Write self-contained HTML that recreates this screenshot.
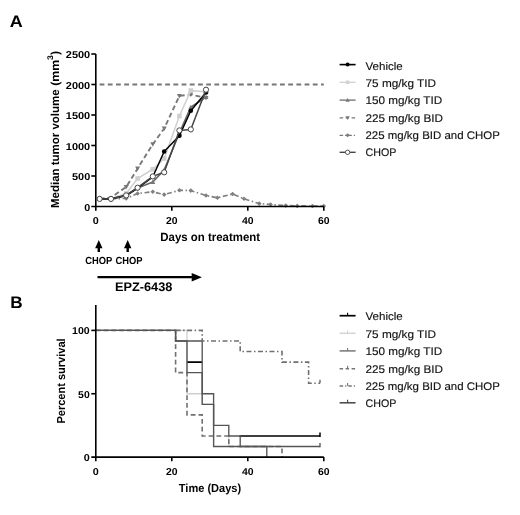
<!DOCTYPE html>
<html><head><meta charset="utf-8"><title>Figure</title>
<style>
html,body{margin:0;padding:0;background:#fff}
svg{display:block}
.b{font-family:"Liberation Sans",sans-serif;font-weight:bold;fill:#000;text-rendering:geometricPrecision}
.r{font-family:"Liberation Sans",sans-serif;font-weight:normal;fill:#111;stroke:#222;stroke-width:0.15px;text-rendering:geometricPrecision}
</style></head><body>
<svg width="520" height="515" viewBox="0 0 520 515">
<rect width="520" height="515" fill="#fff"/>
<g id="fig" filter="url(#soft)">
<defs><filter id="soft" x="0" y="0" width="520" height="515" filterUnits="userSpaceOnUse"><feGaussianBlur stdDeviation="0.45"/></filter></defs>
<text x="9.7" y="26.5" class="b" font-size="16.6" text-anchor="start" textLength="13" lengthAdjust="spacingAndGlyphs">A</text>
<text x="10.3" y="308.1" class="b" font-size="16.6" text-anchor="start" textLength="12.4" lengthAdjust="spacingAndGlyphs">B</text>
<line x1="95.8" y1="84.5" x2="323.8" y2="84.5" stroke="#777" stroke-width="1.9" stroke-dasharray="4.8 3.4" stroke-dashoffset="4.4"/>
<polyline points="99.6,198.9 111.0,198.6 126.2,198.5 137.6,193.5 152.8,191.8 164.2,194.6 179.4,190.3 190.8,190.6 206.0,195.5 217.4,197.8 232.6,194 244.0,198.8 259.2,203.6 270.6,204.5 285.8,205.6 297.2,205.9 312.4,206 323.8,206" fill="none" stroke="#808080" stroke-width="1.7" stroke-linejoin="round" stroke-dasharray="5 2.5 1.5 2.5"/>
<path d="M97.3,198.9 L99.6,196.6 L101.9,198.9 L99.6,201.2Z" fill="#808080"/>
<path d="M108.7,198.6 L111.0,196.3 L113.3,198.6 L111.0,200.9Z" fill="#808080"/>
<path d="M123.9,198.5 L126.2,196.2 L128.5,198.5 L126.2,200.8Z" fill="#808080"/>
<path d="M135.3,193.5 L137.6,191.2 L139.9,193.5 L137.6,195.8Z" fill="#808080"/>
<path d="M150.5,191.8 L152.8,189.5 L155.1,191.8 L152.8,194.1Z" fill="#808080"/>
<path d="M161.9,194.6 L164.2,192.3 L166.5,194.6 L164.2,196.9Z" fill="#808080"/>
<path d="M177.1,190.3 L179.4,188.0 L181.7,190.3 L179.4,192.6Z" fill="#808080"/>
<path d="M188.5,190.6 L190.8,188.3 L193.1,190.6 L190.8,192.9Z" fill="#808080"/>
<path d="M203.7,195.5 L206.0,193.2 L208.3,195.5 L206.0,197.8Z" fill="#808080"/>
<path d="M215.1,197.8 L217.4,195.5 L219.7,197.8 L217.4,200.1Z" fill="#808080"/>
<path d="M230.3,194 L232.6,191.7 L234.9,194 L232.6,196.3Z" fill="#808080"/>
<path d="M241.7,198.8 L244.0,196.5 L246.3,198.8 L244.0,201.1Z" fill="#808080"/>
<path d="M256.9,203.6 L259.2,201.3 L261.5,203.6 L259.2,205.9Z" fill="#808080"/>
<path d="M268.3,204.5 L270.6,202.2 L272.9,204.5 L270.6,206.8Z" fill="#808080"/>
<path d="M283.5,205.6 L285.8,203.3 L288.1,205.6 L285.8,207.9Z" fill="#808080"/>
<path d="M294.9,205.9 L297.2,203.6 L299.5,205.9 L297.2,208.2Z" fill="#808080"/>
<path d="M310.1,206 L312.4,203.7 L314.7,206 L312.4,208.3Z" fill="#808080"/>
<path d="M321.5,206 L323.8,203.7 L326.1,206 L323.8,208.3Z" fill="#808080"/>
<polyline points="99.6,198.9 111.0,197.5 126.2,187 137.6,168.5 152.8,144.2 164.2,128.5 179.4,95.9 190.8,94.5 206.0,98" fill="none" stroke="#777" stroke-width="1.9" stroke-linejoin="round" stroke-dasharray="5 3"/>
<path d="M123.7,185.0 L128.7,185.0 L126.2,189.5Z" fill="#777"/>
<path d="M135.1,166.5 L140.1,166.5 L137.6,171.0Z" fill="#777"/>
<path d="M150.3,142.2 L155.3,142.2 L152.8,146.7Z" fill="#777"/>
<path d="M161.7,126.5 L166.7,126.5 L164.2,131.0Z" fill="#777"/>
<path d="M176.9,93.9 L181.9,93.9 L179.4,98.4Z" fill="#777"/>
<path d="M188.3,92.5 L193.3,92.5 L190.8,97.0Z" fill="#777"/>
<path d="M203.5,96.0 L208.5,96.0 L206.0,100.5Z" fill="#777"/>
<polyline points="99.6,198.9 111.0,198.5 126.2,193.5 137.6,178.5 152.8,169.3 164.2,158.5 179.4,116 190.8,90.6 206.0,91.8" fill="none" stroke="#d2d2d2" stroke-width="1.6" stroke-linejoin="round"/>
<rect x="123.9" y="191.2" width="4.6" height="4.6" fill="#cfcfcf"/>
<rect x="135.3" y="176.2" width="4.6" height="4.6" fill="#cfcfcf"/>
<rect x="150.5" y="167.0" width="4.6" height="4.6" fill="#cfcfcf"/>
<rect x="161.9" y="156.2" width="4.6" height="4.6" fill="#cfcfcf"/>
<rect x="177.1" y="113.7" width="4.6" height="4.6" fill="#cfcfcf"/>
<rect x="188.5" y="88.3" width="4.6" height="4.6" fill="#cfcfcf"/>
<rect x="203.7" y="89.5" width="4.6" height="4.6" fill="#cfcfcf"/>
<polyline points="99.6,198.9 111.0,198.9 126.2,195.2 137.6,188 152.8,182 164.2,170 179.4,133 190.8,107.2 206.0,97" fill="none" stroke="#666" stroke-width="1.7" stroke-linejoin="round"/>
<path d="M123.7,197.2 L128.7,197.2 L126.2,192.7Z" fill="#777"/>
<path d="M135.1,190.0 L140.1,190.0 L137.6,185.5Z" fill="#777"/>
<path d="M150.3,184.0 L155.3,184.0 L152.8,179.5Z" fill="#777"/>
<path d="M161.7,172.0 L166.7,172.0 L164.2,167.5Z" fill="#777"/>
<path d="M176.9,135.0 L181.9,135.0 L179.4,130.5Z" fill="#777"/>
<path d="M188.3,109.2 L193.3,109.2 L190.8,104.7Z" fill="#777"/>
<path d="M203.5,99.0 L208.5,99.0 L206.0,94.5Z" fill="#777"/>
<polyline points="99.6,198.9 111.0,198.9 126.2,195.6 137.6,188.2 152.8,176.8 164.2,151.5 179.4,135.8 190.8,110.7 206.0,92.5" fill="none" stroke="#000" stroke-width="1.5" stroke-linejoin="round"/>
<circle cx="99.6" cy="198.9" r="2.3" fill="#000"/>
<circle cx="111.0" cy="198.9" r="2.3" fill="#000"/>
<circle cx="126.2" cy="195.6" r="2.3" fill="#000"/>
<circle cx="137.6" cy="188.2" r="2.3" fill="#000"/>
<circle cx="152.8" cy="176.8" r="2.3" fill="#000"/>
<circle cx="164.2" cy="151.5" r="2.3" fill="#000"/>
<circle cx="179.4" cy="135.8" r="2.3" fill="#000"/>
<circle cx="190.8" cy="110.7" r="2.3" fill="#000"/>
<circle cx="206.0" cy="92.5" r="2.3" fill="#000"/>
<polyline points="99.6,198.9 111.0,198.9 126.2,195.4 137.6,187.7 152.8,176.4 164.2,172.3 179.4,130.4 190.8,129.4 206.0,89.7" fill="none" stroke="#444" stroke-width="1.5" stroke-linejoin="round"/>
<circle cx="99.6" cy="198.9" r="2.6" fill="#fff" stroke="#444" stroke-width="1"/>
<circle cx="111.0" cy="198.9" r="2.6" fill="#fff" stroke="#444" stroke-width="1"/>
<circle cx="126.2" cy="195.4" r="2.6" fill="#fff" stroke="#444" stroke-width="1"/>
<circle cx="137.6" cy="187.7" r="2.6" fill="#fff" stroke="#444" stroke-width="1"/>
<circle cx="152.8" cy="176.4" r="2.6" fill="#fff" stroke="#444" stroke-width="1"/>
<circle cx="164.2" cy="172.3" r="2.6" fill="#fff" stroke="#444" stroke-width="1"/>
<circle cx="179.4" cy="130.4" r="2.6" fill="#fff" stroke="#444" stroke-width="1"/>
<circle cx="190.8" cy="129.4" r="2.6" fill="#fff" stroke="#444" stroke-width="1"/>
<circle cx="206.0" cy="89.7" r="2.6" fill="#fff" stroke="#444" stroke-width="1"/>
<path d="M95.8,54.0 V210.7 M91.3,206.5 H323.8" stroke="#000" stroke-width="1.6" fill="none"/>
<line x1="91.3" y1="176.0" x2="95.8" y2="176.0" stroke="#000" stroke-width="1.6"/>
<line x1="91.3" y1="145.5" x2="95.8" y2="145.5" stroke="#000" stroke-width="1.6"/>
<line x1="91.3" y1="115.0" x2="95.8" y2="115.0" stroke="#000" stroke-width="1.6"/>
<line x1="91.3" y1="84.5" x2="95.8" y2="84.5" stroke="#000" stroke-width="1.6"/>
<line x1="91.3" y1="54.0" x2="95.8" y2="54.0" stroke="#000" stroke-width="1.6"/>
<line x1="171.8" y1="206.5" x2="171.8" y2="210.7" stroke="#000" stroke-width="1.6"/>
<line x1="247.8" y1="206.5" x2="247.8" y2="210.7" stroke="#000" stroke-width="1.6"/>
<line x1="323.8" y1="206.5" x2="323.8" y2="210.7" stroke="#000" stroke-width="1.6"/>
<text x="90.2" y="210.7" class="b" font-size="10" text-anchor="end" textLength="6" lengthAdjust="spacingAndGlyphs">0</text>
<text x="90.2" y="180.2" class="b" font-size="10" text-anchor="end" textLength="18.2" lengthAdjust="spacingAndGlyphs">500</text>
<text x="90.2" y="149.7" class="b" font-size="10" text-anchor="end" textLength="24.4" lengthAdjust="spacingAndGlyphs">1000</text>
<text x="90.2" y="119.2" class="b" font-size="10" text-anchor="end" textLength="24.4" lengthAdjust="spacingAndGlyphs">1500</text>
<text x="90.2" y="88.7" class="b" font-size="10" text-anchor="end" textLength="24.4" lengthAdjust="spacingAndGlyphs">2000</text>
<text x="90.2" y="58.2" class="b" font-size="10" text-anchor="end" textLength="24.4" lengthAdjust="spacingAndGlyphs">2500</text>
<text x="95.8" y="224.3" class="b" font-size="10" text-anchor="middle" textLength="6" lengthAdjust="spacingAndGlyphs">0</text>
<text x="171.8" y="224.3" class="b" font-size="10" text-anchor="middle" textLength="11.6" lengthAdjust="spacingAndGlyphs">20</text>
<text x="247.8" y="224.3" class="b" font-size="10" text-anchor="middle" textLength="11.6" lengthAdjust="spacingAndGlyphs">40</text>
<text x="323.8" y="224.3" class="b" font-size="10" text-anchor="middle" textLength="11.6" lengthAdjust="spacingAndGlyphs">60</text>
<text x="160.3" y="240.7" class="b" font-size="11.9" text-anchor="start" textLength="99.8" lengthAdjust="spacingAndGlyphs">Days on treatment</text>
<text transform="translate(59.2,208.0) rotate(-90)" class="b" font-size="11.6" textLength="118.6" lengthAdjust="spacingAndGlyphs">Median tumor volume</text>
<text transform="translate(59.2,85.8) rotate(-90)" class="b" font-size="11.6" textLength="34.8" lengthAdjust="spacingAndGlyphs">(mm<tspan font-size="8.2" dy="-6.6">3</tspan><tspan dy="6.6">)</tspan></text>
<text x="365.5" y="69.7" class="r" font-size="11" text-anchor="start" textLength="37.3" lengthAdjust="spacingAndGlyphs">Vehicle</text>
<text x="365.5" y="87.0" class="r" font-size="11" text-anchor="start" textLength="70.5" lengthAdjust="spacingAndGlyphs">75 mg/kg TID</text>
<text x="365.5" y="104.3" class="r" font-size="11" text-anchor="start" textLength="76.7" lengthAdjust="spacingAndGlyphs">150 mg/kg TID</text>
<text x="365.5" y="121.6" class="r" font-size="11" text-anchor="start" textLength="77.5" lengthAdjust="spacingAndGlyphs">225 mg/kg BID</text>
<text x="365.5" y="138.9" class="r" font-size="11" text-anchor="start" textLength="134.3" lengthAdjust="spacingAndGlyphs">225 mg/kg BID and CHOP</text>
<text x="365.5" y="156.2" class="r" font-size="11" text-anchor="start" textLength="30.8" lengthAdjust="spacingAndGlyphs">CHOP</text>
<line x1="339.6" y1="64.6" x2="355.6" y2="64.6" stroke="#000" stroke-width="1.6"/><circle cx="347.6" cy="64.6" r="2" fill="#000"/>
<line x1="339.6" y1="82.3" x2="355.6" y2="82.3" stroke="#d4d4d4" stroke-width="1.4"/><rect x="345.8" y="80.5" width="3.6" height="3.6" fill="#d4d4d4"/>
<line x1="339.6" y1="100.1" x2="355.6" y2="100.1" stroke="#777" stroke-width="1.4"/><path d="M345.5,101.7 L349.7,101.7 L347.6,97.9Z" fill="#777"/>
<line x1="339.6" y1="117.9" x2="355.6" y2="117.9" stroke="#777" stroke-width="1.3" stroke-dasharray="3.5 2.5"/><path d="M345.5,116.3 L349.7,116.3 L347.6,120.1Z" fill="#777"/>
<line x1="339.6" y1="135.3" x2="355.6" y2="135.3" stroke="#777" stroke-width="1.3" stroke-dasharray="3.5 2 1.2 2"/><path d="M345.6,135.3 L347.6,133.3 L349.6,135.3 L347.6,137.3Z" fill="#777"/>
<line x1="339.6" y1="152.3" x2="355.6" y2="152.3" stroke="#444" stroke-width="1.4"/><circle cx="347.6" cy="152.3" r="2.2" fill="#fff" stroke="#444" stroke-width="0.9"/>
<path d="M98.8,239.9 L102.5,248.3 L100.0,248.3 L100.0,252 L97.6,252 L97.6,248.3 L95.1,248.3Z" fill="#000"/>
<path d="M127.7,239.9 L131.4,248.3 L128.9,248.3 L128.9,252 L126.5,252 L126.5,248.3 L124.0,248.3Z" fill="#000"/>
<text x="85.2" y="263.6" class="b" font-size="10.3" text-anchor="start" textLength="27" lengthAdjust="spacingAndGlyphs">CHOP</text>
<text x="115.4" y="263.6" class="b" font-size="10.3" text-anchor="start" textLength="27" lengthAdjust="spacingAndGlyphs">CHOP</text>
<line x1="97.5" y1="277.2" x2="193" y2="277.2" stroke="#000" stroke-width="2.2"/>
<path d="M201.9,277.2 L191.7,272.9 L191.7,281.5Z" fill="#000"/>
<text x="114.9" y="290.9" class="b" font-size="12.4" text-anchor="start" textLength="57.5" lengthAdjust="spacingAndGlyphs">EPZ-6438</text>
<path d="M95.8,330.4 H187.0 V393.75 H202.2 V404.31 H213.6 V446.54" fill="none" stroke="#cfcfcf" stroke-width="1.3"/>
<line x1="228.8" y1="435.98" x2="228.8" y2="446.54" stroke="#cfcfcf" stroke-width="1.3"/>
<path d="M95.8,330.4 H175.6 V372.63 H187.0 V414.87 H202.2 V435.98 H228.8 V446.54 H282.0 V457.1" fill="none" stroke="#707070" stroke-width="1.6" stroke-dasharray="4.8 3"/>
<path d="M187.0,362.08 H202.2 M239.44,435.98 H320.0" fill="none" stroke="#000" stroke-width="1.6"/>
<line x1="320.0" y1="436.88" x2="320.0" y2="432.48" stroke="#000" stroke-width="1.5"/>
<path d="M95.8,330.4 H175.6 V340.96 H187.0 V372.63 H202.2 V404.31 H213.6 V446.54 H320.0 V446.54" fill="none" stroke="#555" stroke-width="1.35"/>
<line x1="320.0" y1="447.24" x2="320.0" y2="443.04" stroke="#5a5a5a" stroke-width="1.4"/>
<path d="M95.8,330.4 H175.6 V340.96 H202.2 V393.75 H213.6 V425.43 H228.8 V435.98 H240.2 V446.54 H266.8 V457.1" fill="none" stroke="#555" stroke-width="1.35"/>
<path d="M175.6,330.4 H202.2 V340.96 H240.2 V351.52 H282.0 V362.08 H308.6 V383.19 H320.0 V383.19" fill="none" stroke="#707070" stroke-width="1.6" stroke-dasharray="5 2.5 1.5 2.5"/>
<line x1="320.0" y1="383.19" x2="320.0" y2="379.69" stroke="#707070" stroke-width="1.5"/>
<path d="M95.8,305.06 V461.3 M91.3,457.1 H323.8" stroke="#000" stroke-width="1.6" fill="none"/>
<line x1="91.3" y1="393.75" x2="95.8" y2="393.75" stroke="#000" stroke-width="1.6"/>
<line x1="91.3" y1="330.4" x2="95.8" y2="330.4" stroke="#000" stroke-width="1.6"/>
<line x1="171.8" y1="457.1" x2="171.8" y2="461.3" stroke="#000" stroke-width="1.6"/>
<line x1="247.8" y1="457.1" x2="247.8" y2="461.3" stroke="#000" stroke-width="1.6"/>
<line x1="323.8" y1="457.1" x2="323.8" y2="461.3" stroke="#000" stroke-width="1.6"/>
<text x="89.7" y="461.0" class="b" font-size="10" text-anchor="end" textLength="6" lengthAdjust="spacingAndGlyphs">0</text>
<text x="89.7" y="397.6" class="b" font-size="10" text-anchor="end" textLength="11.6" lengthAdjust="spacingAndGlyphs">50</text>
<text x="89.7" y="334.3" class="b" font-size="10" text-anchor="end" textLength="17.6" lengthAdjust="spacingAndGlyphs">100</text>
<text x="95.8" y="475.3" class="b" font-size="10" text-anchor="middle" textLength="6" lengthAdjust="spacingAndGlyphs">0</text>
<text x="171.8" y="475.3" class="b" font-size="10" text-anchor="middle" textLength="11.6" lengthAdjust="spacingAndGlyphs">20</text>
<text x="247.8" y="475.3" class="b" font-size="10" text-anchor="middle" textLength="11.6" lengthAdjust="spacingAndGlyphs">40</text>
<text x="323.8" y="475.3" class="b" font-size="10" text-anchor="middle" textLength="11.6" lengthAdjust="spacingAndGlyphs">60</text>
<text x="178.8" y="491.9" class="b" font-size="11.6" text-anchor="start" textLength="62.4" lengthAdjust="spacingAndGlyphs">Time (Days)</text>
<text transform="translate(64.7,423.6) rotate(-90)" class="b" font-size="11.6" textLength="85.2" lengthAdjust="spacingAndGlyphs">Percent survival</text>
<text x="365.5" y="320.4" class="r" font-size="11" text-anchor="start" textLength="37.3" lengthAdjust="spacingAndGlyphs">Vehicle</text>
<text x="365.5" y="337.8" class="r" font-size="11" text-anchor="start" textLength="70.5" lengthAdjust="spacingAndGlyphs">75 mg/kg TID</text>
<text x="365.5" y="355.2" class="r" font-size="11" text-anchor="start" textLength="76.7" lengthAdjust="spacingAndGlyphs">150 mg/kg TID</text>
<text x="365.5" y="372.6" class="r" font-size="11" text-anchor="start" textLength="77.5" lengthAdjust="spacingAndGlyphs">225 mg/kg BID</text>
<text x="365.5" y="390.0" class="r" font-size="11" text-anchor="start" textLength="134.3" lengthAdjust="spacingAndGlyphs">225 mg/kg BID and CHOP</text>
<text x="365.5" y="407.4" class="r" font-size="11" text-anchor="start" textLength="30.8" lengthAdjust="spacingAndGlyphs">CHOP</text>
<line x1="339.6" y1="315.7" x2="355.6" y2="315.7" stroke="#000" stroke-width="1.7"/>
<line x1="347.6" y1="315.7" x2="347.6" y2="312.7" stroke="#000" stroke-width="1.1"/>
<line x1="339.6" y1="333.3" x2="355.6" y2="333.3" stroke="#d4d4d4" stroke-width="1.5"/>
<line x1="347.6" y1="333.3" x2="347.6" y2="330.3" stroke="#d4d4d4" stroke-width="1.1"/>
<line x1="339.6" y1="350.9" x2="355.6" y2="350.9" stroke="#777" stroke-width="1.5"/>
<line x1="347.6" y1="350.9" x2="347.6" y2="347.9" stroke="#777" stroke-width="1.1"/>
<line x1="339.6" y1="368.8" x2="355.6" y2="368.8" stroke="#777" stroke-width="1.5" stroke-dasharray="3.5 2.5"/>
<line x1="347.6" y1="368.8" x2="347.6" y2="365.8" stroke="#777" stroke-width="1.1"/>
<line x1="339.6" y1="385.9" x2="355.6" y2="385.9" stroke="#777" stroke-width="1.5" stroke-dasharray="3.5 2 1.2 2"/>
<line x1="347.6" y1="385.9" x2="347.6" y2="382.9" stroke="#777" stroke-width="1.1"/>
<line x1="339.6" y1="402.8" x2="355.6" y2="402.8" stroke="#444" stroke-width="1.5"/>
<line x1="347.6" y1="402.8" x2="347.6" y2="399.8" stroke="#444" stroke-width="1.1"/>
</g></svg>
</body></html>
